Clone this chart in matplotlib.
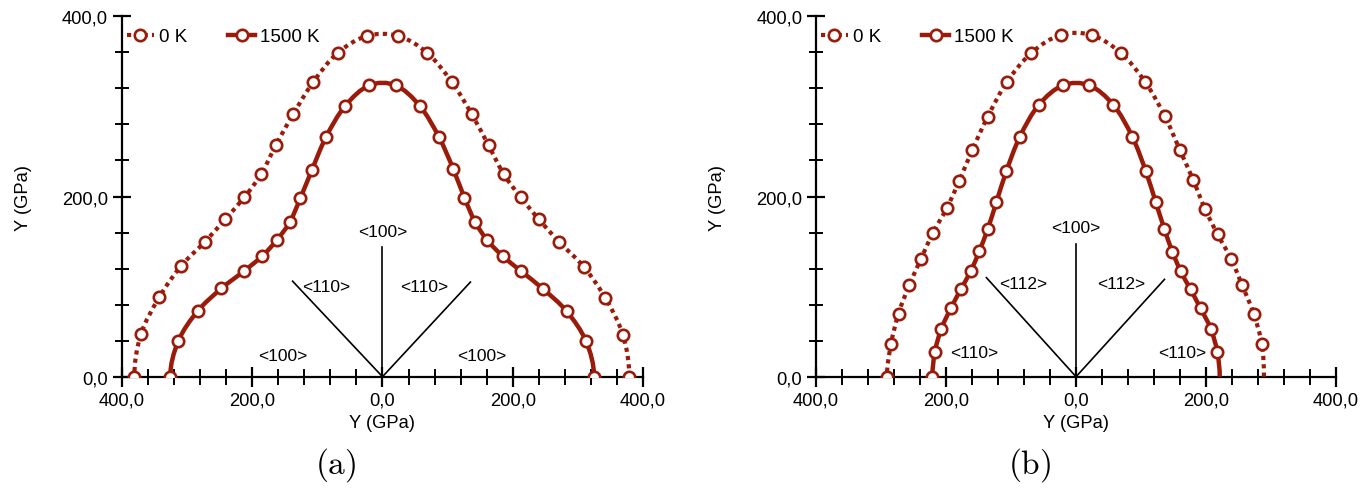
import numpy as np
import matplotlib
matplotlib.use("Agg")
import matplotlib.pyplot as plt
from matplotlib.ticker import MultipleLocator, FuncFormatter
from matplotlib.lines import Line2D
from matplotlib.path import Path
from matplotlib.patches import PathPatch

plt.rcParams['font.family'] = ['Liberation Sans', 'DejaVu Sans']
plt.rcParams['mathtext.fontset'] = 'cm'

# ---------------- data ----------------
# direction angle of each data point (degrees, measured from the +x axis)
ANGLES_DEG = [0.0, 7.2, 14.4, 21.6, 28.8, 36.0, 43.2, 50.4, 57.6, 64.8, 72.0, 79.2, 86.4,
              93.6, 100.8, 108.0, 115.2, 122.4, 129.6, 136.8, 144.0, 151.2, 158.4, 165.6, 172.8, 180.0]

# Young's modulus (GPa), panel (a)
A_0K = [379, 372, 353, 332, 310, 297, 291, 292, 304, 322, 344, 366, 379,
        379, 366, 344, 322, 305, 292, 291, 298, 311, 333, 354, 374, 381]
A_1500K = [325, 315, 292, 265, 243, 228, 221, 223, 235, 255, 280, 306, 324,
           324, 306, 280, 254, 235, 223, 222, 228, 243, 266, 293, 316, 326]

# Young's modulus (GPa), panel (b)
B_0K = [289, 288, 282, 275, 272, 269, 272, 283, 298, 320, 344, 366, 380,
        380, 366, 344, 319, 298, 282, 273, 272, 272, 276, 282, 287, 291]
B_1500K = [221, 219, 214, 206, 201, 199, 203, 213, 229, 252, 280, 307, 324,
           324, 307, 280, 252, 229, 213, 204, 200, 202, 207, 214, 219, 221]

SERIES_LABELS = ["0 K", "1500 K"]
PANEL_LABELS = ["(a)", "(b)"]

# crystallographic direction annotations: (text, x, y)
A_DIR_LABELS = [("<100>", 0, 161), ("<110>", -86, 100), ("<110>", 64, 100),
                ("<100>", -153, 23), ("<100>", 152, 23)]
B_DIR_LABELS = [("<100>", 0, 166), ("<112>", -81, 104), ("<112>", 69, 104),
                ("<110>", -156, 27), ("<110>", 164, 27)]
# direction guide lines: end points from the origin
A_DIR_LINES = [(0, 144), (-138, 106), (135, 105)]
B_DIR_LINES = [(0, 147), (-138, 110), (136, 108)]

RED = '#9B1B0A'
MS = 8.2
MEW = 1.9
LW_DOT = 3.0
LW_SOLID = 3.2

# ---------------- figure ----------------
fig = plt.figure(figsize=(13.66, 4.89), dpi=100)
ax_a = fig.add_axes([0.0893, 0.2276, 0.3814, 0.737])
ax_b = fig.add_axes([0.5974, 0.2276, 0.3807, 0.737])

fmt = FuncFormatter(lambda v, p: f"{abs(v):.1f}".replace('.', ','))
theta = np.deg2rad(ANGLES_DEG)


def spline_path(x, y):
    """Smooth (Catmull-Rom style) Bezier path through the data points."""
    pts = np.column_stack([x, y])
    # mirror neighbours across the x axis (curve is symmetric about it)
    first = np.array([pts[1, 0], -pts[1, 1]])
    last = np.array([pts[-2, 0], -pts[-2, 1]])
    ext = np.vstack([first, pts, last])
    verts = [tuple(pts[0])]
    codes = [Path.MOVETO]
    for i in range(1, len(ext) - 2):
        p0, p1, p2, p3 = ext[i - 1], ext[i], ext[i + 1], ext[i + 2]
        c1 = p1 + (p2 - p0) / 6.0
        c2 = p2 - (p3 - p1) / 6.0
        verts += [tuple(c1), tuple(c2), tuple(p2)]
        codes += [Path.CURVE4] * 3
    return Path(verts, codes)


def draw_panel(ax, e0, e1500, dir_lines, dir_labels, panel_label, markevery):
    for tx, ty in dir_lines:
        ax.plot([0, tx], [0, ty], color='black', lw=1.2, zorder=2)
    for txt, tx, ty in dir_labels:
        ax.text(tx, ty, txt, ha='center', va='center', fontsize=12.5, zorder=3)

    for vals, style, lw, z in [(e0, 'dot', LW_DOT, 4), (e1500, 'solid', LW_SOLID, 5)]:
        r = np.asarray(vals, dtype=float)
        x = r * np.cos(theta)
        y = r * np.sin(theta)
        patch = PathPatch(spline_path(x, y), fill=False, edgecolor=RED, lw=lw,
                          zorder=z)
        if style == 'dot':
            patch.set_linestyle((0, (1, 1)))
            patch.set_capstyle('butt')
        ax.add_patch(patch)
        ax.plot(x, y, ls='none', marker='o', ms=MS, mfc='white', mec=RED,
                mew=MEW, markevery=markevery, zorder=z + 0.5)

    ax.set_xlim(-400, 400)
    ax.set_ylim(0, 400)
    for s in ['top', 'right']:
        ax.spines[s].set_visible(False)
    for s in ['left', 'bottom']:
        ax.spines[s].set_linewidth(1.6)
    ax.xaxis.set_major_locator(MultipleLocator(200))
    ax.xaxis.set_minor_locator(MultipleLocator(40))
    ax.yaxis.set_major_locator(MultipleLocator(200))
    ax.yaxis.set_minor_locator(MultipleLocator(40))
    ax.xaxis.set_major_formatter(fmt)
    ax.yaxis.set_major_formatter(fmt)
    ax.tick_params(axis='x', which='major', direction='inout', length=14, width=1.6,
                   labelsize=13.2, pad=3.5)
    ax.tick_params(axis='x', which='minor', direction='inout', length=11, width=1.4)
    ax.tick_params(axis='y', which='major', direction='inout', length=13, width=1.6,
                   labelsize=13.2, pad=3.5)
    ax.tick_params(axis='y', which='minor', direction='inout', length=10, width=1.4)

    ax.set_xlabel("Y (GPa)", fontsize=13.2)
    ax.set_ylabel("Y (GPa)", fontsize=13.2)
    ax.xaxis.set_label_coords(0.5, -0.103)
    ax.yaxis.set_label_coords(-0.173, 0.5)

    handles = [
        Line2D([], [], color=RED, lw=LW_DOT, dashes=(1, 1), dash_capstyle='butt',
               marker='o', ms=MS, mfc='white', mec=RED, mew=MEW),
        Line2D([], [], color=RED, lw=LW_SOLID, marker='o', ms=MS, mfc='white',
               mec=RED, mew=MEW),
    ]
    ax.legend(handles, SERIES_LABELS, ncol=2, loc='center left',
              bbox_to_anchor=(0.009, 0.943), frameon=False, borderpad=0,
              borderaxespad=0, handlelength=1.45, handletextpad=0.25,
              columnspacing=2.2, numpoints=1, fontsize=13.5)

    ax.text(0.5 - 47 / 521, -0.243, r'$\mathrm{' + panel_label + '}$',
            transform=ax.transAxes, ha='center', va='center', fontsize=24)


draw_panel(ax_a, A_0K, A_1500K, A_DIR_LINES, A_DIR_LABELS, PANEL_LABELS[0],
           list(range(0, 26)))
draw_panel(ax_b, B_0K, B_1500K, B_DIR_LINES, B_DIR_LABELS, PANEL_LABELS[1],
           list(range(1, 26)))

fig.savefig("out.png", dpi=100)
